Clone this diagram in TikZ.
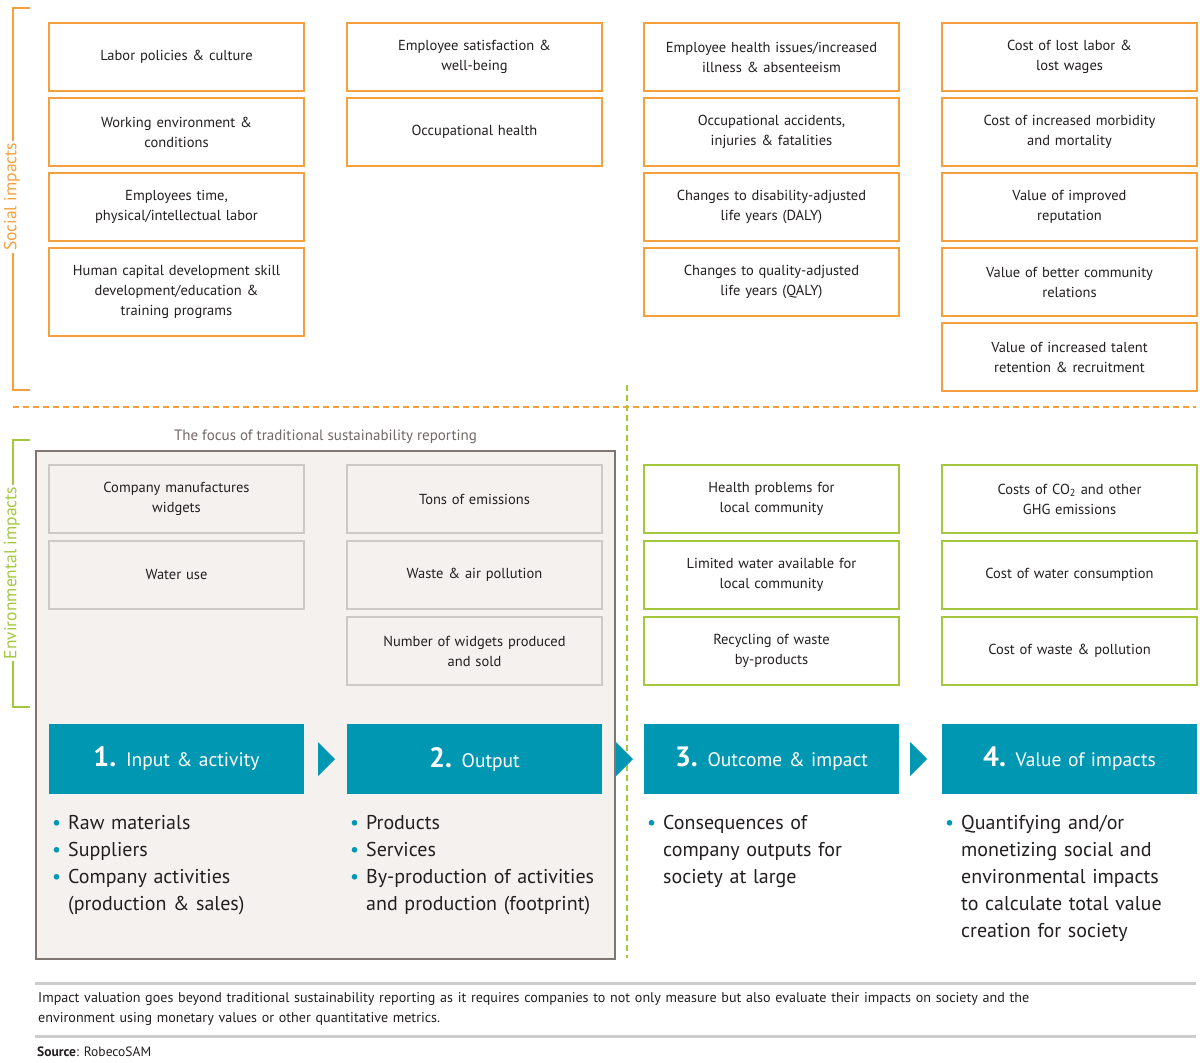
\documentclass[tikz,border=0pt]{standalone}
\usepackage{fontspec}
\setmainfont{PT Sans}
\usetikzlibrary{positioning}

\definecolor{sorange}{HTML}{F5A03C}
\definecolor{egreen}{HTML}{A3C83E}
\definecolor{steal}{HTML}{0097B2}
\definecolor{fgray}{HTML}{F4F1EF}
\definecolor{fborder}{HTML}{7F7571}
\definecolor{iborder}{HTML}{CFC9C5}
\definecolor{tdark}{HTML}{231F20}
\definecolor{rule}{HTML}{CCCCCC}

\newcommand{\bdot}{\makebox[16pt][l]{\textcolor{steal}{\textbullet}}}
\newcommand{\bgap}{\hspace*{16pt}}

\tikzset{
  cell/.style={minimum width=255pt, minimum height=68pt, text width=245pt,
    align=center, inner sep=0pt, line width=2pt, text=tdark,
    font=\fontsize{14.5}{20}\selectfont},
  sbox/.style={cell, draw=sorange, fill=white},
  ebox/.style={cell, draw=iborder, fill=fgray},
  gbox/.style={cell, draw=egreen, fill=white},
  hbox/.style={cell, draw=none, fill=steal, text=white, minimum height=70pt,
    font=\fontsize{19.5}{24}\selectfont},
  blist/.style={anchor=north west, inner sep=0pt, text width=270pt, align=left,
    text=tdark, font=\fontsize{20}{27}\selectfont},
  side/.style={rotate=90, fill=white, inner sep=2pt, font=\fontsize{17.5}{20}\selectfont},
  node distance=5pt
}

\begin{document}
\begin{tikzpicture}[x=1pt, y=-1pt]

  \useasboundingbox[fill=white] (0,0) rectangle (1200,1063);

  % social side bracket
  \draw[sorange, line width=2pt] (30,8) -- (13,8) -- (13,390) -- (30,390);
  \node[side, text=sorange] (soclab) at (12,197) {Social impacts};

  % environmental side bracket
  \draw[egreen, line width=2pt] (30,440) -- (13,440) -- (13,707) -- (30,707);
  \node[side, text=egreen] (envlab) at (12,573) {Environmental impacts};

  % dividers
  \draw[sorange, line width=2pt, dash pattern=on 6pt off 4pt] (13,407) -- (1196,407);

  % focus area
  \node[draw=fborder, fill=fgray, line width=2pt, minimum width=579pt,
    minimum height=508pt, inner sep=0pt, anchor=north west] (focus) at (35,450) {};
  \node[text=fborder!90!black, font=\fontsize{15}{18}\selectfont, above=3pt of focus.north]
    (focuslab) {The focus of traditional sustainability reporting};

  \draw[egreen, line width=2pt, dash pattern=on 6pt off 4pt] (627,385) -- (627,958);

  %% social impacts
  \node[sbox, anchor=north west] (s11) at (48,22) {Labor policies \& culture};
  \node[sbox, below=of s11] (s12) {Working environment \&\\conditions};
  \node[sbox, below=of s12] (s13) {Employees time,\\physical/intellectual labor};
  \node[sbox, below=of s13, minimum height=88pt] (s14)
    {Human capital development skill\\development/education \&\\training programs};

  \node[sbox, anchor=north west] (s21) at (346,22) {Employee satisfaction \&\\well-being};
  \node[sbox, below=of s21] (s22) {Occupational health};

  \node[sbox, anchor=north west] (s31) at (643,22) {Employee health issues/increased\\illness \& absenteeism};
  \node[sbox, below=of s31] (s32) {Occupational accidents,\\injuries \& fatalities};
  \node[sbox, below=of s32] (s33) {Changes to disability-adjusted\\life years (DALY)};
  \node[sbox, below=of s33] (s34) {Changes to quality-adjusted\\life years (QALY)};

  \node[sbox, anchor=north west] (s41) at (941,22) {Cost of lost labor \&\\lost wages};
  \node[sbox, below=of s41] (s42) {Cost of increased morbidity\\and mortality};
  \node[sbox, below=of s42] (s43) {Value of improved\\reputation};
  \node[sbox, below=of s43] (s44) {Value of better community\\relations};
  \node[sbox, below=of s44] (s45) {Value of increased talent\\retention \& recruitment};

  %% environmental impacts
  \node[ebox, anchor=north west] (e11) at (48,464) {Company manufactures\\widgets};
  \node[ebox, below=6pt of e11] (e12) {Water use};

  \node[ebox, anchor=north west] (e21) at (346,464) {Tons of emissions};
  \node[ebox, below=6pt of e21] (e22) {Waste \& air pollution};
  \node[ebox, below=6pt of e22] (e23) {Number of widgets produced\\and sold};

  \node[gbox, anchor=north west] (e31) at (643,464) {Health problems for\\local community};
  \node[gbox, below=6pt of e31] (e32) {Limited water available for\\local community};
  \node[gbox, below=6pt of e32] (e33) {Recycling of waste\\by-products};

  \node[gbox, anchor=north west] (e41) at (941,464) {Costs of CO\textsubscript{2} and other\\GHG emissions};
  \node[gbox, below=6pt of e41] (e42) {Cost of water consumption};
  \node[gbox, below=6pt of e42] (e43) {Cost of waste \& pollution};

  %% stages
  \node[hbox, anchor=north west] (h1) at (48,723) {{\fontsize{28}{28}\selectfont\bfseries 1.} Input \& activity};
  \node[hbox, anchor=north west] (h2) at (346,723) {{\fontsize{28}{28}\selectfont\bfseries 2.} Output};
  \node[hbox, anchor=north west] (h3) at (643,723) {{\fontsize{28}{28}\selectfont\bfseries 3.} Outcome \& impact};
  \node[hbox, anchor=north west] (h4) at (941,723) {{\fontsize{28}{28}\selectfont\bfseries 4.} Value of impacts};

  \fill[steal] ([xshift=13pt, yshift=17pt]h1.east) -- ([xshift=30pt]h1.east) -- ([xshift=13pt, yshift=-17pt]h1.east) -- cycle; % 1->2
  \fill[steal] ([xshift=13pt, yshift=17pt]h2.east) -- ([xshift=30pt]h2.east) -- ([xshift=13pt, yshift=-17pt]h2.east) -- cycle; % 2->3
  \fill[steal] ([xshift=10pt, yshift=17pt]h3.east) -- ([xshift=27pt]h3.east) -- ([xshift=10pt, yshift=-17pt]h3.east) -- cycle; % 3->4

  \node[blist] (l1) at (52,815) {\bdot Raw materials\\\bdot Suppliers\\\bdot Company activities\\\bgap (production \& sales)};
  \node[blist] (l2) at (350,815) {\bdot Products\\\bdot Services\\\bdot By-production of activities\\\bgap and production (footprint)};
  \node[blist] (l3) at (647,815) {\bdot Consequences of\\\bgap company outputs for\\\bgap society at large};
  \node[blist] (l4) at (945,815) {\bdot Quantifying and/or\\\bgap monetizing social and\\\bgap environmental impacts\\\bgap to calculate total value\\\bgap creation for society};

  %% footer
  \draw[rule, line width=3pt] (35,983) -- (1196,983);
  \draw[rule, line width=3pt] (35,1036) -- (1196,1036);
  \node[anchor=north west, inner sep=0pt, text width=1150pt, align=left, text=tdark,
    font=\fontsize{14.1}{20}\selectfont] (note) at (38,992)
    {Impact valuation goes beyond traditional sustainability reporting as it requires companies to not only measure but also evaluate their impacts on society and the\\environment using monetary values or other quantitative metrics.};
  \node[anchor=west, inner sep=0pt, text=tdark, font=\fontsize{13.5}{16}\selectfont]
    (source) at (37,1052) {\textbf{Source}: RobecoSAM};

\end{tikzpicture}
\end{document}
